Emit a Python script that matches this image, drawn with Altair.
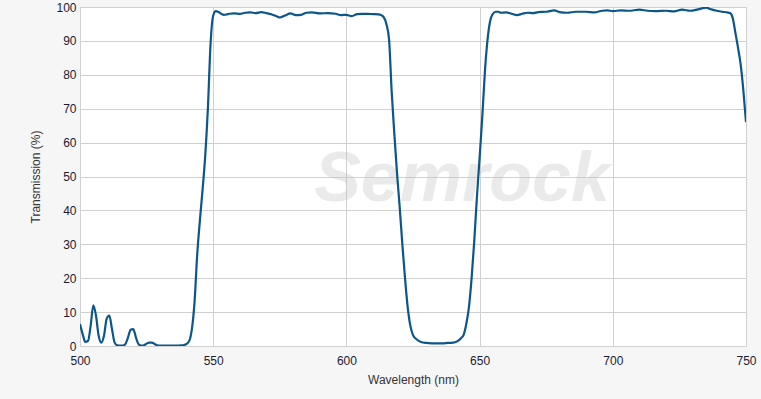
import altair as alt
import pandas as pd

wavelength = [
    500, 501, 502, 503, 504, 505, 506, 507, 508, 509, 510, 511, 512, 513, 514,
    515, 516, 517, 518, 519, 520, 521, 522, 523, 524, 525, 526, 527, 528, 529,
    530, 532, 534, 536, 538, 539, 540, 541, 542, 543, 544, 545, 546, 547, 548,
    549, 550, 551, 552, 553, 554, 555, 556, 558, 560, 562, 564, 566, 568, 570,
    572, 574, 575, 577, 579, 581, 583, 585, 587, 590, 593, 596, 598, 600, 602,
    604, 606, 608, 610, 612, 613, 614, 615, 616, 617, 618, 619, 620, 621, 622,
    623, 624, 625, 626, 627, 628, 630, 632, 634, 636, 638, 640, 641, 642, 643,
    644, 645, 646, 647, 648, 649, 650, 651, 652, 653, 654, 655, 656, 657, 658,
    660, 662, 664, 666, 668, 670, 672, 675, 678, 680, 683, 686, 690, 693, 696,
    698, 700, 703, 706, 710, 713, 716, 720, 723, 726, 729, 732, 735, 737, 739,
    741, 743, 744, 745, 746, 747, 748, 749, 750,
]
transmission = [
    6.5, 3.5, 1.2, 1.5, 6.0, 12.0, 9.0, 3.0, 1.0, 3.0, 8.0, 9.0, 5.0, 1.0, 0.2,
    0.1, 0.1, 0.5, 2.5, 4.8, 5.0, 2.5, 0.5, 0.1, 0.2, 0.7, 1.0, 1.0, 0.6, 0.2,
    0.1, 0.1, 0.1, 0.1, 0.2, 0.3, 0.6, 1.5, 5.0, 13.0, 27.0, 37.0, 46.0, 56.0, 70.0,
    89.0, 97.5, 98.8, 98.5, 98.0, 97.7, 97.8, 98.0, 98.1, 98.0, 98.3, 98.4, 98.2, 98.5, 98.2,
    97.8, 97.2, 96.9, 97.5, 98.1, 97.6, 97.7, 98.3, 98.4, 98.1, 98.2, 98.0, 97.6, 97.7, 97.3,
    97.9, 98.0, 98.0, 97.9, 97.8, 97.6, 97.0, 95.0, 90.5, 75.0, 62.5, 51.0, 41.0, 30.0, 20.0,
    11.5, 6.0, 3.2, 2.2, 1.6, 1.2, 0.9, 0.8, 0.8, 0.8, 0.9, 1.0, 1.2, 1.6, 2.3,
    3.3, 6.5, 11.5, 20.0, 31.0, 44.0, 55.5, 67.5, 81.0, 90.5, 96.0, 98.0, 98.6, 98.6, 98.3,
    98.4, 98.0, 97.6, 98.0, 98.3, 98.2, 98.5, 98.6, 99.0, 98.5, 98.3, 98.6, 98.6, 98.4, 98.9,
    99.0, 98.8, 99.0, 98.9, 99.2, 98.9, 98.8, 98.9, 98.7, 99.2, 98.9, 99.3, 99.8, 99.3, 98.9,
    98.6, 98.4, 98.2, 96.8, 92.5, 88.0, 83.0, 75.5, 66.0,
]
x_ticks = [500, 550, 600, 650, 700, 750]
y_ticks = [0, 10, 20, 30, 40, 50, 60, 70, 80, 90, 100]

df = pd.DataFrame({"wl": wavelength, "t": transmission})

FONT = "Liberation Sans"
LABEL_COLOR = "#1a1a33"

watermark = alt.Chart(pd.DataFrame({"label": ["Semrock"]})).mark_text(
    font=FONT,
    fontSize=70,
    fontWeight="bold",
    fontStyle="italic",
    fill="#bdbdbd",
    fillOpacity=0.32,
    align="center",
    baseline="middle",
).encode(text="label:N", x=alt.value(382), y=alt.value(173))

line = alt.Chart(df).mark_line(
    color="#0b568a", strokeWidth=2.2, interpolate="monotone", clip=True
).encode(
    x=alt.X(
        "wl:Q",
        scale=alt.Scale(domain=[500, 750], nice=False, zero=False),
        axis=alt.Axis(
            values=x_ticks,
            title="Wavelength (nm)",
            grid=True,
            gridColor="#d0d0d0",
            domain=False,
            ticks=False,
            labelFont=FONT,
            labelFontSize=12,
            labelColor=LABEL_COLOR,
            labelPadding=9,
            labelFlush=False,
            titleFont=FONT,
            titleFontSize=12,
            titleFontWeight="normal",
            titleColor="#333333",
            titlePadding=8,
        ),
    ),
    y=alt.Y(
        "t:Q",
        scale=alt.Scale(domain=[0, 100], nice=False),
        axis=alt.Axis(
            values=y_ticks,
            title="Transmission (%)",
            grid=True,
            gridColor="#d0d0d0",
            domain=False,
            ticks=False,
            labelFont=FONT,
            labelFontSize=12,
            labelColor=LABEL_COLOR,
            labelPadding=4,
            labelFlush=False,
            titleFont=FONT,
            titleFontSize=12,
            titleFontWeight="normal",
            titleColor="#333333",
            titlePadding=13,
        ),
    ),
)

chart = (
    alt.layer(watermark, line)
    .properties(
        width=666,
        height=339,
        autosize=alt.AutoSizeParams(type="none"),
        padding={"left": 80, "top": 7, "right": 15, "bottom": 53},
        background="#f6f6f6",
    )
    .configure_view(fill="white", stroke=None)
)

chart.save("out.html", embed_options={"renderer": "svg", "actions": False})
